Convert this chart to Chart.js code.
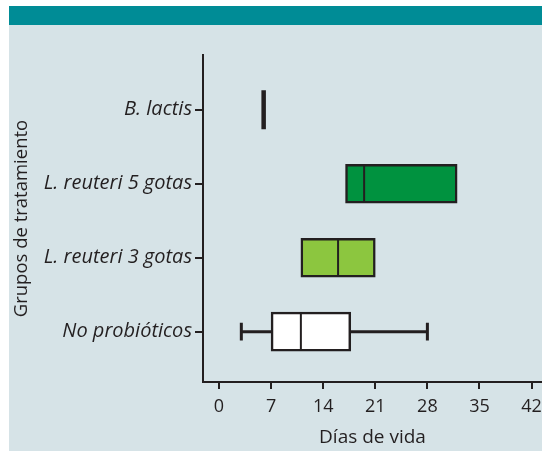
<!DOCTYPE html>
<html><head><meta charset="utf-8">
<script src="https://cdn.jsdelivr.net/npm/chart.js@4/dist/chart.umd.min.js"></script>
<style>
html,body{margin:0;padding:0;background:#fff;}
#wrap{position:relative;width:542px;height:451px;overflow:hidden;}
#panel{position:absolute;left:9px;top:6px;width:533px;height:445px;background:#d6e3e7;}
#head{position:absolute;left:9px;top:6px;width:533px;height:19px;background:#008c96;}
canvas{position:absolute;left:0;top:0;}
</style></head><body>
<div id="wrap"><div id="panel"></div><div id="head"></div><canvas id="c" width="542" height="451"></canvas></div>
<script>
// ---- data ----
const groups = ['B. lactis', 'L. reuteri 5 gotas', 'L. reuteri 3 gotas', 'No probióticos'];
const minVals = [6, 17, 11, 3];
const q1Vals  = [6, 17, 11, 7];
const medVals = [6, 19.5, 16, 11];
const q3Vals  = [6, 32, 21, 17.7];
const maxVals = [6, 32, 21, 28];
const boxColors = ['#231f20', '#00923f', '#8cc63f', '#ffffff'];
const xTicks = [0, 7, 14, 21, 28, 35, 42];
const xTitle = 'Días de vida';
const yTitle = 'Grupos de tratamiento';

// ---- build datasets ----
const INK = '#231f20';
const boxHalf = 0.262;
const capHalf = 0.12;
const GAP = () => ({ x: null, y: null });

const boxData = groups.map((g, i) => (q3Vals[i] > q1Vals[i]) ? { x: [q1Vals[i], q3Vals[i]], y: i } : { x: null, y: i });

const medianPts = [];
groups.forEach((g, i) => {
  medianPts.push({ x: medVals[i], y: i - boxHalf }, { x: medVals[i], y: i + boxHalf }, GAP());
});

const whiskerPts = [];
groups.forEach((g, i) => {
  if (minVals[i] < q1Vals[i]) {
    whiskerPts.push({ x: minVals[i], y: i }, { x: q1Vals[i], y: i }, GAP());
    whiskerPts.push({ x: minVals[i], y: i - capHalf }, { x: minVals[i], y: i + capHalf }, GAP());
  }
  if (maxVals[i] > q3Vals[i]) {
    whiskerPts.push({ x: q3Vals[i], y: i }, { x: maxVals[i], y: i }, GAP());
    whiskerPts.push({ x: maxVals[i], y: i - capHalf }, { x: maxVals[i], y: i + capHalf }, GAP());
  }
});

Chart.defaults.font.family = "'Open Sans', sans-serif";
Chart.defaults.color = INK;

new Chart(document.getElementById('c'), {
  type: 'bar',
  data: {
    datasets: [
      {
        type: 'bar',
        indexAxis: 'y',
        data: boxData,
        backgroundColor: boxColors,
        borderColor: INK,
        borderWidth: 2.5,
        borderSkipped: false,
        barThickness: 39,
        order: 3
      },
      {
        type: 'line',
        data: whiskerPts,
        borderColor: INK,
        borderWidth: 3,
        pointRadius: 0,
        fill: false,
        spanGaps: false,
        borderCapStyle: 'butt',
        order: 2
      },
      {
        type: 'line',
        data: medianPts,
        borderColor: INK,
        borderWidth: 2,
        pointRadius: 0,
        fill: false,
        spanGaps: false,
        borderCapStyle: 'butt',
        segment: {
          borderWidth: ctx => {
            const g = Math.floor(ctx.p0DataIndex / 3);
            return (q3Vals[g] - q1Vals[g] === 0) ? 4.5 : 2;
          }
        },
        order: 1
      }
    ]
  },
  options: {
    responsive: false,
    devicePixelRatio: 1,
    animation: false,
    layout: { padding: { left: 0, right: 0, top: 55, bottom: 0 } },
    plugins: { legend: { display: false }, tooltip: { enabled: false } },
    scales: {
      x: {
        type: 'linear',
        position: 'bottom',
        offset: false,
        min: -2.15,
        max: 43.4,
        afterBuildTicks: s => { s.ticks = xTicks.map(v => ({ value: v })); },
        afterFit: s => { s.height = 69; s.paddingLeft = 0; s.paddingRight = 0; },
        grid: { offset: false, drawOnChartArea: false, drawTicks: true, tickLength: 7, color: INK, lineWidth: 2 },
        border: { display: true, color: INK, width: 2 },
        ticks: { font: { size: 18 }, padding: 7, color: INK, maxRotation: 0 },
        title: { display: true, text: xTitle, font: { size: 19 }, padding: { top: 0, bottom: 2 }, color: INK }
      },
      y: {
        type: 'linear',
        position: 'left',
        offset: false,
        reverse: true,
        min: -0.74,
        max: 3.68,
        afterBuildTicks: s => { s.ticks = groups.map((g, i) => ({ value: i })); },
        afterFit: s => { s.width = 203; s.paddingTop = 0; s.paddingBottom = 0; },
        grid: { offset: false, drawOnChartArea: false, drawTicks: true, tickLength: 8, color: INK, lineWidth: 2 },
        border: { display: true, color: INK, width: 2 },
        ticks: {
          font: { size: 20, style: 'italic' },
          padding: 3,
          color: INK,
          callback: v => groups[v]
        },
        title: { display: true, text: yTitle, font: { size: 18.5 }, padding: { top: 11, bottom: 0 }, color: INK }
      }
    }
  }
});
</script>
</body></html>
